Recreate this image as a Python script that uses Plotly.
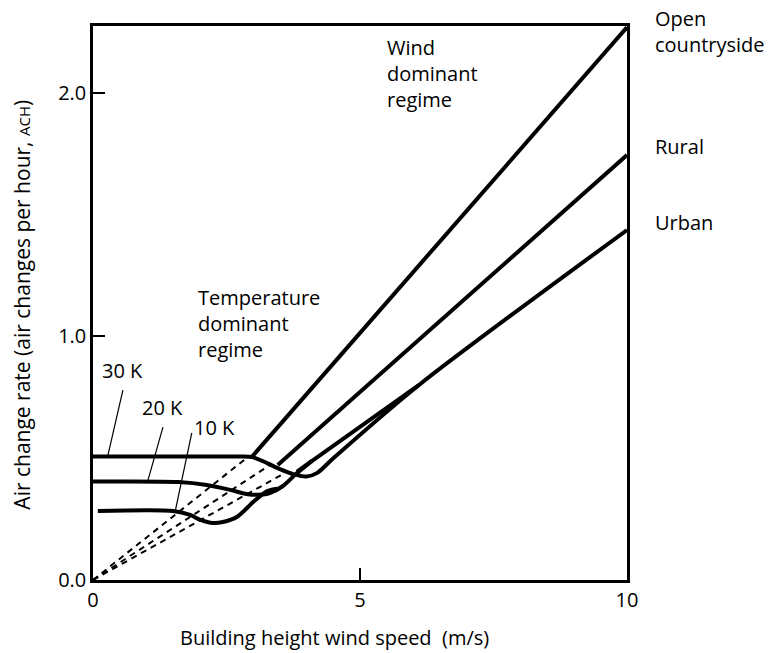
import plotly.graph_objects as go

# ---- data (wind speed m/s, air change rate ACH) ----
t30_x = [0, 2.7, 2.98, 3.26, 3.5, 3.75, 4.0, 4.2, 4.5, 6.1, 10]
t30_y = [0.507, 0.507, 0.505, 0.48, 0.455, 0.435, 0.425, 0.44, 0.50, 0.80, 1.437]

t20_x = [0, 1.6, 2.13, 2.57, 2.9, 3.1, 3.31, 3.55, 3.8, 4.1]
t20_y = [0.404, 0.402, 0.39, 0.37, 0.352, 0.35, 0.357, 0.385, 0.435, 0.489]

t10_x = [0.09, 1.5, 1.82, 2.0, 2.25, 2.43, 2.7, 3.0, 3.26, 3.45]
t10_y = [0.283, 0.283, 0.267, 0.248, 0.234, 0.238, 0.26, 0.32, 0.365, 0.375]

open_x = [2.98, 10]
open_y = [0.507, 2.27]
rural_x = [3.46, 10]
rural_y = [0.472, 1.745]
urban2_x = [3.82, 6.1]
urban2_y = [0.445, 0.80]

dash1_x = [0, 2.9]
dash1_y = [0, 0.505]
dash2_x = [0, 3.3]
dash2_y = [0, 0.47]
dash3_x = [0, 3.6]
dash3_y = [0, 0.44]

lead30_x = [0.56, 0.28]
lead30_y = [0.78, 0.513]
lead20_x = [1.31, 1.03]
lead20_y = [0.628, 0.41]
lead10_x = [1.85, 1.54]
lead10_y = [0.604, 0.283]

x_ticks = [0, 5, 10]
x_ticklabels = ["0", "5", "10"]
y_ticks = [0, 1, 2]
y_ticklabels = ["0.0", "1.0", "2.0"]

FONT = "Open Sans"
FS = 20

fig = go.Figure()

def solid(x, y, spline=False):
    fig.add_trace(go.Scatter(x=x, y=y, mode="lines",
                             line=dict(color="black", width=4,
                                       shape="spline" if spline else "linear",
                                       smoothing=0.8),
                             hoverinfo="skip", showlegend=False))

for dx, dy in [(dash1_x, dash1_y), (dash2_x, dash2_y), (dash3_x, dash3_y)]:
    fig.add_trace(go.Scatter(x=dx, y=dy, mode="lines",
                             line=dict(color="black", width=2, dash="6px,5px"),
                             hoverinfo="skip", showlegend=False))

for lx, ly in [(lead30_x, lead30_y), (lead20_x, lead20_y), (lead10_x, lead10_y)]:
    fig.add_trace(go.Scatter(x=lx, y=ly, mode="lines",
                             line=dict(color="black", width=1.2),
                             hoverinfo="skip", showlegend=False))

solid(t30_x, t30_y, True)
solid(t20_x, t20_y, True)
solid(t10_x, t10_y, True)
solid(open_x, open_y)
solid(rural_x, rural_y)
solid(urban2_x, urban2_y)

annots = []
def txt(x, y, s, xref="x", yref="y", xanchor="left", size=FS, align="left", **kw):
    annots.append(dict(x=x, y=y, xref=xref, yref=yref, text=s, showarrow=False,
                       xanchor=xanchor, yanchor="middle", align=align,
                       font=dict(family=FONT, size=size, color="black"), **kw))

# in-plot labels
txt(5.47, 2.082, "Wind<br>dominant<br>regime")
txt(1.93, 1.055, "Temperature<br>dominant<br>regime")
txt(0.56, 0.862, "30 K", xanchor="center")
txt(1.31, 0.71, "20 K", xanchor="center")
txt(2.27, 0.628, "10 K", xanchor="center")
# right side labels (paper coordinates, outside the plot)
txt(1.049, 0.990, "Open<br>countryside", xref="paper", yref="paper")
txt(1.049, 0.782, "Rural", xref="paper", yref="paper")
txt(1.049, 0.646, "Urban", xref="paper", yref="paper")
# axis titles
txt(0.453, -0.103, "Building height wind speed&nbsp;&nbsp;(m/s)", xref="paper", yref="paper", xanchor="center")
annots.append(dict(x=-0.133, y=0.497, xref="paper", yref="paper",
                   text="Air change rate (air changes per hour, <span style='font-size:15px'>ACH</span>)",
                   showarrow=False, textangle=-90, xanchor="center", yanchor="middle",
                   font=dict(family=FONT, size=21, color="black")))

fig.update_layout(
    width=770, height=653,
    margin=dict(l=93, r=143, t=26, b=73),
    paper_bgcolor="white", plot_bgcolor="white",
    font=dict(family=FONT, size=FS, color="black"),
    annotations=annots,
    xaxis=dict(range=[0, 10], tickvals=x_ticks, ticktext=x_ticklabels,
               showline=True, mirror=True, linecolor="black", linewidth=2.5,
               ticks="inside", ticklen=12, tickwidth=2, tickcolor="black",
               tickfont=dict(family=FONT, size=FS),
               showgrid=False, zeroline=False, fixedrange=True),
    yaxis=dict(range=[0, 2.275], tickvals=y_ticks, ticktext=y_ticklabels,
               showline=True, mirror=True, linecolor="black", linewidth=2.5,
               ticks="inside", ticklen=12, tickwidth=2, tickcolor="black",
               tickfont=dict(family=FONT, size=FS),
               showgrid=False, zeroline=False, fixedrange=True),
)

fig.write_html("out.html", config={"displayModeBar": False},
               post_script="document.body.style.margin='0px';")
